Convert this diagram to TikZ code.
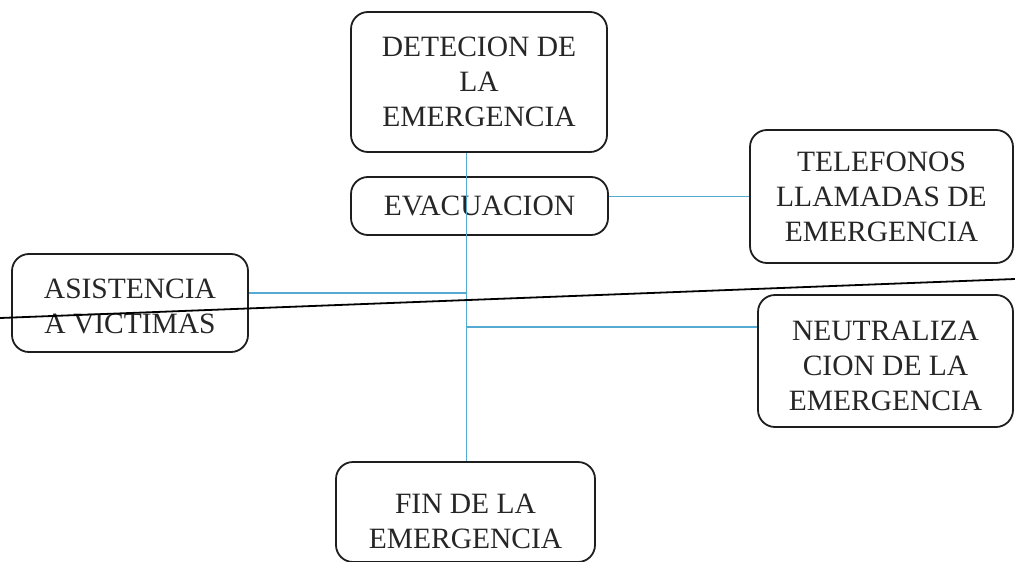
\documentclass[tikz,border=0pt]{standalone}
\usepackage{fontspec}
\setmainfont{Liberation Serif}
\usetikzlibrary{calc}
\definecolor{linkblue}{RGB}{85,170,210}
\definecolor{boxline}{RGB}{30,30,30}
\tikzset{
  stagebox/.style={draw=boxline, line width=1.8pt, rounded corners=17pt, align=center,
    inner sep=0pt, font=\fontsize{29.5}{35}\selectfont, text=black!85},
  link/.style={draw=linkblue, line width=1.6pt},
  stroke/.style={draw=black, line width=1.8pt}
}
\begin{document}
\begin{tikzpicture}[x=1pt,y=-1pt]
\useasboundingbox (0,0) rectangle (1015,562);
\node[stagebox, minimum width=256pt, minimum height=140pt] (det) at (479,82) {DETECION DE\\LA\\EMERGENCIA};
\node[stagebox, minimum width=257pt, minimum height=58pt] (evac) at (479.5,206) {EVACUACION};
\node[stagebox, minimum width=263pt, minimum height=133pt] (tel) at (881.5,196.5) {TELEFONOS\\LLAMADAS DE\\EMERGENCIA};
\node[stagebox, minimum width=236pt, minimum height=98pt, text height=61pt] (asis) at (130,303) {ASISTENCIA\\A VICTIMAS};
\node[stagebox, minimum width=255pt, minimum height=132pt, text height=99pt] (neut) at (885.5,361) {NEUTRALIZA\\CION DE LA\\EMERGENCIA};
\node[stagebox, minimum width=259pt, minimum height=100pt, text height=73pt] (fin) at (465.5,512) {FIN DE LA\\EMERGENCIA};
% junction points on the connectors
\coordinate (vb) at ($(fin.north)+(1,0)$);
\coordinate (aj) at ($(asis.east)+(0,-10)$);
\coordinate (nj) at ($(neut.west)+(0,-34)$);
% connectors
\draw[link] (det.south -| vb) -- (vb);
\draw[link] (evac.east |- tel.west) -- (tel.west);
\draw[link] (aj) -- (aj -| vb);
\draw[link] (nj -| vb) -- (nj);
% slanted black line
\coordinate (sl) at (0,318);
\coordinate (sr) at (1015,279);
\draw[stroke] (sl) -- (sr);
\end{tikzpicture}
\end{document}
